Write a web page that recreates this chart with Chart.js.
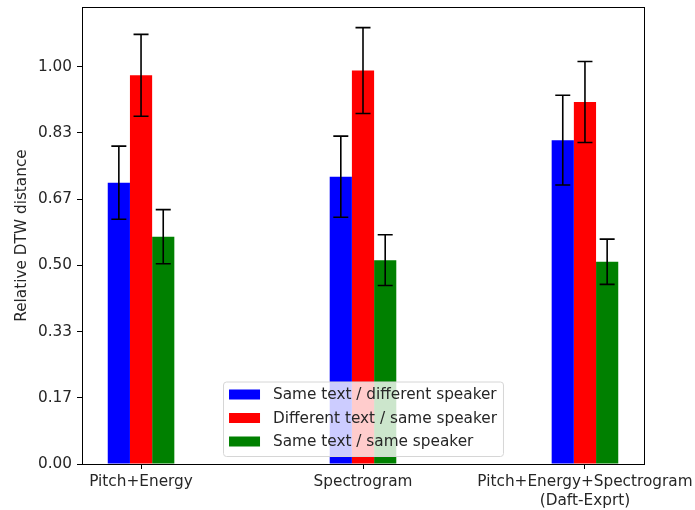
<!DOCTYPE html>
<html>
<head>
<meta charset="utf-8">
<script src="https://cdn.jsdelivr.net/npm/chart.js@4/dist/chart.umd.min.js"></script>
<style>
  html, body { margin: 0; padding: 0; background: #fff; }
  #wrap { width: 695px; height: 510px; }
</style>
</head>
<body>
<div id="wrap"><canvas id="chart" width="695" height="510"></canvas></div>
<script>
// methods on the x axis (last one spans two lines)
const methods = ['Pitch+Energy', 'Spectrogram', ['Pitch+Energy+Spectrogram', '(Daft-Exprt)']];

const seriesNames = ['Same text / different speaker', 'Different text / same speaker', 'Same text / same speaker'];
const seriesColors = ['#0000ff', '#ff0000', '#008000'];

// mean relative DTW distance per method
const sameTextDiffSpeaker = [0.708, 0.723, 0.815];
const diffTextSameSpeaker = [0.978, 0.990, 0.911];
const sameTextSameSpeaker = [0.572, 0.513, 0.509];

// standard deviations
const sameTextDiffSpeakerErr = [0.092, 0.102, 0.113];
const diffTextSameSpeakerErr = [0.103, 0.108, 0.102];
const sameTextSameSpeakerErr = [0.068, 0.064, 0.057];

const yTickValues = [0, 1 / 6, 2 / 6, 3 / 6, 4 / 6, 5 / 6, 1];

const means = [sameTextDiffSpeaker, diffTextSameSpeaker, sameTextSameSpeaker];
const errs = [sameTextDiffSpeakerErr, diffTextSameSpeakerErr, sameTextSameSpeakerErr];

const FONT = { family: '"DejaVu Sans", sans-serif', size: 15.3 };
const TEXT = '#262626';

const datasets = means.map((vals, s) => ({
  label: seriesNames[s],
  data: vals.map((v, i) => ({ x: i, y: v })),
  errors: errs[s],
  backgroundColor: seriesColors[s],
  borderWidth: 0,
  barPercentage: 1,
  categoryPercentage: 0.3
}));

// black error bars with caps, drawn on top of the bars
const errorBars = {
  id: 'errorBars',
  afterDatasetsDraw(chart) {
    const ctx = chart.ctx;
    const y = chart.scales.y;
    ctx.save();
    ctx.strokeStyle = '#000';
    ctx.lineWidth = 1.6;
    chart.data.datasets.forEach((ds, di) => {
      const meta = chart.getDatasetMeta(di);
      meta.data.forEach((bar, i) => {
        const v = ds.data[i].y, e = ds.errors[i];
        const yTop = y.getPixelForValue(v + e);
        const yBot = y.getPixelForValue(v - e);
        const x = bar.x;
        ctx.beginPath();
        ctx.moveTo(x, yTop); ctx.lineTo(x, yBot);
        ctx.moveTo(x - 7.5, yTop); ctx.lineTo(x + 7.5, yTop);
        ctx.moveTo(x - 7.5, yBot); ctx.lineTo(x + 7.5, yBot);
        ctx.stroke();
      });
    });
    ctx.restore();
  }
};

// axes frame plus a legend box in the lower middle of the plot
const frameAndLegend = {
  id: 'frameAndLegend',
  afterDraw(chart) {
    const ctx = chart.ctx;
    const a = chart.chartArea;
    ctx.save();
    ctx.strokeStyle = '#000';
    ctx.lineWidth = 1;
    ctx.strokeRect(Math.round(a.left) + 0.5, Math.round(a.top) + 0.5,
      Math.round(a.right - a.left), Math.round(a.bottom - a.top));

    ctx.font = FONT.size + 'px ' + FONT.family;
    const textW = Math.max(...seriesNames.map(n => ctx.measureText(n).width));
    const pad = 6, swW = 31, swH = 10, gap = 13, rowH = 23.5;
    const boxW = pad + swW + gap + textW + pad;
    const boxH = rowH * seriesNames.length + 4;
    const bx = (a.left + a.right) / 2 - boxW / 2;
    const by = a.bottom - 8 - boxH;

    ctx.beginPath();
    ctx.roundRect(bx + 0.5, by + 0.5, boxW, boxH, 3);
    ctx.fillStyle = 'rgba(255,255,255,0.8)';
    ctx.fill();
    ctx.strokeStyle = '#d6d6d6';
    ctx.stroke();

    ctx.textBaseline = 'middle';
    ctx.textAlign = 'left';
    seriesNames.forEach((name, i) => {
      const cy = by + 13 + i * rowH;
      ctx.fillStyle = seriesColors[i];
      ctx.fillRect(bx + pad, cy - swH / 2, swW, swH);
      ctx.fillStyle = TEXT;
      ctx.fillText(name, bx + pad + swW + gap, cy + 1);
    });
    ctx.restore();
  }
};

new Chart(document.getElementById('chart'), {
  type: 'bar',
  data: { datasets },
  options: {
    responsive: false,
    animation: false,
    layout: { padding: { left: 0, right: 51, top: 7, bottom: 0 } },
    plugins: {
      legend: { display: false },
      tooltip: { enabled: false }
    },
    scales: {
      x: {
        type: 'linear',
        offset: false,
        min: -0.266,
        max: 2.266,
        afterBuildTicks: s => { s.ticks = methods.map((m, i) => ({ value: i })); },
        afterFit: s => { s.height = 46; s.paddingLeft = 0; s.paddingRight = 0; },
        grid: { offset: false, drawOnChartArea: false, tickLength: 5, color: '#000', tickWidth: 1 },
        border: { display: true, color: '#000' },
        ticks: {
          autoSkip: false,
          maxRotation: 0,
          padding: 4,
          color: TEXT,
          font: FONT,
          callback: v => methods[v]
        }
      },
      y: {
        min: 0,
        max: 1.15,
        afterBuildTicks: s => { s.ticks = yTickValues.map(v => ({ value: v })); },
        afterFit: s => { s.width = 82; s.paddingTop = 0; s.paddingBottom = 0; },
        grid: { drawOnChartArea: false, tickLength: 5, color: '#000', tickWidth: 1 },
        border: { display: true, color: '#000' },
        ticks: {
          padding: 5,
          color: TEXT,
          font: FONT,
          callback: v => v.toFixed(2)
        },
        title: {
          display: true,
          text: 'Relative DTW distance',
          color: TEXT,
          font: FONT,
          padding: { top: 13, bottom: 0 }
        }
      }
    }
  },
  plugins: [errorBars, frameAndLegend]
});
</script>
</body>
</html>
